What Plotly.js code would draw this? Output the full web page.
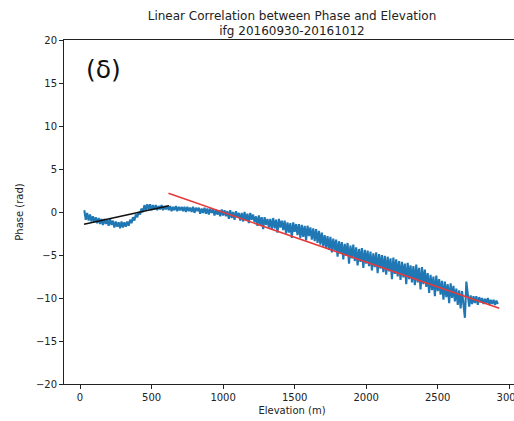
<!DOCTYPE html>
<html>
<head>
<meta charset="utf-8">
<script src="https://cdn.plot.ly/plotly-3.0.1.min.js"></script>
<style>
html,body{margin:0;padding:0;overflow:hidden;background:#fff;}
#chart{width:540px;height:421px;}
</style>
</head>
<body>
<div id="chart"></div>
<script>
// Elevation samples (m), every 10 m from 30 to 2920
const elevStart = 30, elevStep = 10;
const phase = [
  0.2,-0.9,-0.1,-1.0,-0.3,-1.1,-0.5,-1.2,-0.6,-1.3,
  -0.7,-1.4,-0.8,-1.5,-0.8,-1.4,-0.9,-1.6,-0.8,-1.5,
  -1.0,-1.8,-1.1,-1.7,-1.2,-1.9,-1.1,-1.8,-1.2,-1.7,
  -1.1,-1.6,-0.9,-1.3,-0.6,-1.0,-0.3,-0.6,0.0,-0.3,
  0.4,0.0,0.8,0.2,0.9,0.3,0.9,0.2,0.8,0.3,
  0.8,0.2,0.7,0.3,0.8,0.2,0.7,0.3,0.7,0.2,
  0.7,0.1,0.6,0.2,0.7,0.1,0.6,0.2,0.6,0.1,
  0.6,0.0,0.6,0.1,0.5,0.0,0.6,-0.1,0.5,0.1,
  0.5,-0.2,0.4,-0.1,0.5,-0.2,0.4,-0.3,0.4,-0.1,
  0.3,-0.4,0.3,-0.3,0.2,-0.5,0.3,-0.4,0.2,-0.5,
  0.1,-0.8,0.2,-0.7,0.0,-0.9,0.1,-0.6,-0.1,-1.0,
  -0.1,-1.1,0.0,-1.0,-0.2,-1.3,-0.1,-0.9,-0.3,-1.2,
  -0.5,-1.6,-0.4,-1.5,-0.6,-2.0,-0.6,-1.5,-0.8,-1.8,
  -0.8,-2.0,-0.7,-1.9,-0.9,-2.4,-0.8,-1.8,-1.0,-2.1,
  -1.0,-2.5,-1.2,-2.4,-1.3,-3.0,-1.2,-2.3,-1.4,-2.7,
  -1.4,-3.0,-1.5,-2.9,-1.6,-3.3,-1.6,-2.8,-1.8,-3.2,
  -1.9,-3.4,-2.0,-3.6,-2.2,-3.8,-2.4,-4.0,-2.7,-4.2,
  -2.8,-4.4,-2.9,-4.7,-3.1,-4.5,-3.2,-5.2,-3.4,-4.8,
  -3.5,-5.5,-3.7,-5.1,-3.6,-6.0,-3.9,-5.4,-3.8,-5.7,
  -4.1,-6.2,-4.3,-5.8,-4.2,-6.5,-4.4,-6.0,-4.5,-6.3,
  -4.6,-6.8,-4.8,-6.4,-4.7,-7.1,-4.9,-6.6,-5.0,-7.0,
  -5.1,-7.3,-5.2,-6.9,-5.4,-7.8,-5.3,-7.2,-5.5,-7.5,
  -5.7,-7.9,-5.8,-7.6,-6.0,-8.4,-5.9,-7.8,-6.2,-8.2,
  -6.3,-8.5,-6.1,-8.2,-6.5,-9.0,-6.4,-8.4,-6.7,-8.7,
  -7.1,-9.4,-7.3,-9.1,-7.5,-9.8,-7.4,-9.2,-7.8,-9.6,
  -8.0,-10.2,-8.1,-9.9,-8.4,-10.6,-8.3,-10.0,-8.6,-10.4,
  -8.9,-10.8,-9.1,-11.2,-9.2,-10.7,-12.3,-8.1,-9.4,-11.0,
  -9.7,-10.7,-9.8,-10.6,-9.8,-10.8,-9.9,-10.5,-10.0,-10.7,
  -10.1,-10.6,-10.0,-10.8,-10.2,-10.7,-10.2,-10.8,-10.3,-10.7
];
const elevation = phase.map((_, i) => elevStart + i * elevStep);

// Fit lines (endpoints)
const fitLowX = [28, 622];
const fitLowY = [-1.43, 0.73];
const fitHighX = [618, 2930];
const fitHighY = [2.17, -11.2];

const xTicks = [0, 500, 1000, 1500, 2000, 2500, 3000];
const yTicks = [-20, -15, -10, -5, 0, 5, 10, 15, 20];

const font = {family: 'DejaVu Sans, sans-serif', size: 10, color: '#222'};

const traces = [
  {x: elevation, y: phase, type: 'scatter', mode: 'lines',
   line: {color: '#1f77b4', width: 2.1}, hoverinfo: 'skip'},
  {x: fitLowX, y: fitLowY, type: 'scatter', mode: 'lines',
   line: {color: '#111111', width: 1.6}},
  {x: fitHighX, y: fitHighY, type: 'scatter', mode: 'lines',
   line: {color: '#e8393a', width: 1.6}}
];

const axisCommon = {
  showline: true, linecolor: '#222', linewidth: 1, mirror: true,
  ticks: 'outside', ticklen: 4, tickwidth: 1, tickcolor: '#222',
  showgrid: false, zeroline: false, tickfont: font
};

const layout = {
  width: 540, height: 421,
  margin: {l: 64, r: 20, t: 40, b: 37},
  paper_bgcolor: '#fff', plot_bgcolor: '#fff',
  showlegend: false,
  font: font,
  title: {
    text: 'Linear Correlation between Phase and Elevation<br>ifg 20160930-20161012',
    font: {family: 'DejaVu Sans, sans-serif', size: 12, color: '#222'},
    x: 0.5, xref: 'paper', xanchor: 'center',
    y: 0.953, yref: 'container', yanchor: 'top'
  },
  xaxis: Object.assign({}, axisCommon, {
    range: [-112, 3075], tickvals: xTicks,
    title: {text: 'Elevation (m)', font: font, standoff: 4}
  }),
  yaxis: Object.assign({}, axisCommon, {
    range: [-20, 20], tickvals: yTicks,
    title: {text: 'Phase (rad)', font: font, standoff: 10}
  }),
  annotations: [{
    text: '(δ)', xref: 'paper', yref: 'paper', x: 0.044, y: 0.913,
    xanchor: 'left', yanchor: 'middle', showarrow: false,
    font: {family: 'DejaVu Sans, sans-serif', size: 25, color: '#111'}
  }]
};

Plotly.newPlot('chart', traces, layout, {displayModeBar: false, staticPlot: true});
</script>
</body>
</html>
